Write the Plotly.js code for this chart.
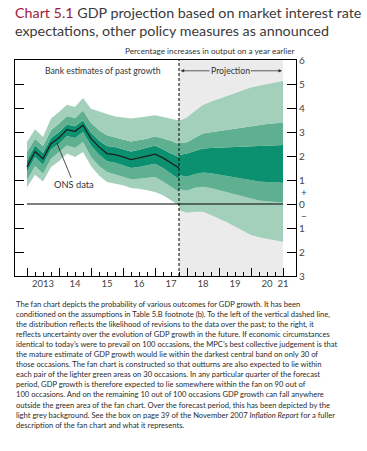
<!DOCTYPE html>
<html>
<head>
<meta charset="utf-8">
<script src="https://cdn.plot.ly/plotly-3.0.1.min.js"></script>
<style>
html,body{margin:0;padding:0;background:#fff;}
#chart{width:367px;height:451px;}
</style>
</head>
<body>
<div id="chart"></div>
<script>
// ---------------- DATA ----------------
const histQuarters = ['2013Q1','2013Q2','2013Q3','2013Q4','2014Q1','2014Q2','2014Q3','2014Q4',
  '2015Q1','2015Q2','2015Q3','2015Q4','2016Q1','2016Q2','2016Q3','2016Q4',
  '2017Q1','2017Q2','2017Q3','2017Q4'];
const onsData     = [1.54,2.19,1.89,2.51,2.76,3.10,3.03,3.28,2.72,2.38,2.10,2.06,1.96,1.85,1.92,2.00,2.08,1.92,1.72,1.50];
const histOuterHi = [2.58,3.11,2.79,3.56,3.83,4.14,4.04,4.42,3.97,3.85,3.75,3.65,3.60,3.56,3.60,3.66,3.70,3.62,3.55,3.48];
const histMidHi   = [2.17,2.72,2.42,3.07,3.35,3.67,3.58,3.90,3.39,3.07,2.86,2.79,2.69,2.60,2.65,2.72,2.82,2.72,2.64,2.50];
const histDarkHi  = [1.82,2.44,2.14,2.75,3.00,3.31,3.24,3.49,2.97,2.65,2.42,2.38,2.28,2.19,2.26,2.35,2.44,2.28,2.10,1.96];
const histDarkLo  = [1.33,1.96,1.64,2.28,2.51,2.83,2.75,3.00,2.44,2.06,1.78,1.72,1.61,1.50,1.54,1.61,1.68,1.50,1.26,1.03];
const histMidLo   = [0.99,1.58,1.26,1.89,2.17,2.44,2.33,2.58,1.96,1.58,1.33,1.22,1.13,1.03,1.05,1.08,1.13,0.94,0.71,0.50];
const histOuterLo = [0.70,1.22,0.94,1.54,1.78,2.10,1.96,2.17,1.58,1.19,0.92,0.85,0.78,0.67,0.64,0.57,0.50,0.36,0.15,-0.05];

const projQuarters = ['2017Q4','2018Q1','2018Q2','2018Q3','2018Q4','2019Q1','2019Q2','2019Q3',
  '2019Q4','2020Q1','2020Q2','2020Q3','2020Q4','2021Q1'];
const projOuterHi = [3.46,3.60,3.88,4.13,4.26,4.38,4.49,4.61,4.72,4.85,4.93,5.00,5.07,5.13];
const projMidHi   = [2.53,2.57,2.76,2.94,2.99,3.04,3.08,3.14,3.19,3.25,3.29,3.33,3.36,3.39];
const projDarkHi  = [2.04,2.10,2.21,2.31,2.33,2.35,2.36,2.38,2.39,2.40,2.42,2.43,2.45,2.46];
const projDarkLo  = [1.21,1.14,1.25,1.31,1.28,1.22,1.17,1.11,1.04,0.97,0.94,0.92,0.90,0.89];
const projMidLo   = [0.61,0.56,0.68,0.72,0.67,0.58,0.49,0.39,0.31,0.21,0.15,0.11,0.08,0.06];
const projOuterLo = [-0.25,-0.36,-0.32,-0.32,-0.46,-0.60,-0.76,-0.94,-1.13,-1.29,-1.39,-1.46,-1.51,-1.57];

const yTickVals   = [-3,-2,-1,0,1,2,3,4,5,6];
const yTickText   = ['3','2','1','0','1','2','3','4','5','6'];
const xYearLabels = ['2013','14','15','16','17','18','19','20','21'];
const xYears      = [2013,2014,2015,2016,2017,2018,2019,2020,2021];

const titleLines = [
 '<span style="color:#a0193c">Chart 5.1</span> GDP projection based on market interest rate',
 'expectations, other policy measures as announced'
];
const footLines = [
 "The fan chart depicts the probability of various outcomes for GDP growth. It has been",
 "conditioned on the assumptions in Table 5.B footnote (b). To the left of the vertical dashed line,",
 "the distribution reflects the likelihood of revisions to the data over the past; to the right, it",
 "reflects uncertainty over the evolution of GDP growth in the future. If economic circumstances",
 "identical to today\u2019s were to prevail on 100 occasions, the MPC\u2019s best collective judgement is that",
 "the mature estimate of GDP growth would lie within the darkest central band on only 30 of",
 "those occasions. The fan chart is constructed so that outturns are also expected to lie within",
 "each pair of the lighter green areas on 30 occasions. In any particular quarter of the forecast",
 "period, GDP growth is therefore expected to lie somewhere within the fan on 90 out of",
 "100 occasions. And on the remaining 10 out of 100 occasions GDP growth can fall anywhere",
 "outside the green area of the fan chart. Over the forecast period, this has been depicted by the",
 "light grey background. See the box on page 39 of the November 2007 <i>Inflation Report</i> for a fuller",
 "description of the fan chart and what it represents."
];

// ---------------- HELPERS ----------------
function q2num(q){ return parseInt(q.slice(0,4),10) + (parseInt(q.slice(5),10)-1)*0.25; }
const hx = histQuarters.map(q2num);
const px = projQuarters.map(q2num);
const projStart = q2num(projQuarters[0]);
const projEnd = q2num(projQuarters[projQuarters.length-1]);

const FONT = "Lato,'Open Sans',sans-serif";
const DARK = '#0b9170', MID = '#5fb091', LIGHT = '#a3d0bb';

function band(x, ys, name){
  const cols = [null, LIGHT, MID, DARK, MID, LIGHT];
  return ys.map((y,i)=>({
    x:x, y:y, type:'scatter', mode:'lines', line:{width:0}, hoverinfo:'skip',
    fill: i===0 ? 'none' : 'tonexty', fillcolor: cols[i] || 'rgba(0,0,0,0)',
    showlegend:false, name:name+i
  }));
}

const traces = []
  .concat(band(hx,[histOuterLo,histMidLo,histDarkLo,histDarkHi,histMidHi,histOuterHi],'h'))
  .concat(band(px,[projOuterLo,projMidLo,projDarkLo,projDarkHi,projMidHi,projOuterHi],'p'));
traces.push({x:hx, y:onsData, type:'scatter', mode:'lines', line:{color:'#1b1f1e', width:1.3}, hoverinfo:'skip', showlegend:false});
// carrier for the year-label axis
traces.push({x:[xYears[0]], y:[null], xaxis:'x2', type:'scatter', mode:'lines', hoverinfo:'skip', showlegend:false});

// ---------------- LAYOUT ----------------
const W=367, H=451, L=15, R=71, T=60, B=175;
const plotW = W-L-R, plotH = H-T-B;
const xMin = 2012.625, xMax = xMin + plotW/32;
function pyToPaper(py){ return (H-B-py)/plotH; }
function pxToPaper(p){ return (p-L)/plotW; }

const quarterTicks = [];
for(let y=xYears[0]; y<xYears[xYears.length-1]; y++){ for(let k=1;k<4;k++) quarterTicks.push(y+k*0.25); }
const labelPos = xYears.map((y,i)=> i<xYears.length-1 ? y+0.5 : y);

const annotations = [];
titleLines.forEach((t,k)=>{
  annotations.push({xref:'paper', yref:'paper', x:pxToPaper(13), y:pyToPaper(12.5+k*17.5), xanchor:'left', yanchor:'middle',
    text:t, showarrow:false, align:'left', font:{family:FONT,size:14.3,color:'#3a3a3a'}});
});
annotations.push({xref:'paper', yref:'paper', x:1, y:pyToPaper(51), xanchor:'right', yanchor:'middle',
  text:'Percentage increases in output on a year earlier', showarrow:false, font:{family:FONT,size:8.2,color:'#333'}});
annotations.push({xref:'x', yref:'y', x:2015.37, y:5.55, text:'Bank estimates of past growth', showarrow:false,
  font:{family:FONT,size:8.7,color:'#333'}});
annotations.push({xref:'x', yref:'y', x:2019.35, y:5.55, text:'Projection', showarrow:false,
  font:{family:FONT,size:8.7,color:'#333'}, bgcolor:'#ebebeb', borderpad:0});
annotations.push({xref:'x', yref:'y', x:projStart+0.05, y:5.55, axref:'x', ayref:'y', ax:2018.8, ay:5.55,
  text:' ', showarrow:true, arrowhead:2, arrowsize:0.9, arrowwidth:0.8, arrowcolor:'#333', standoff:0, startstandoff:0});
annotations.push({xref:'x', yref:'y', x:projEnd-0.03, y:5.55, axref:'x', ayref:'y', ax:2019.9, ay:5.55,
  text:' ', showarrow:true, arrowhead:2, arrowsize:0.9, arrowwidth:0.8, arrowcolor:'#333', standoff:0, startstandoff:0});
annotations.push({xref:'x', yref:'y', x:2013.93, y:2.55, axref:'x', ayref:'y', ax:2014.47, ay:0.80,
  text:'ONS data', showarrow:true, arrowhead:0, arrowwidth:0.8, arrowcolor:'#222', standoff:0,
  font:{family:FONT,size:9.3,color:'#333'}});
annotations.push({xref:'paper', yref:'y', x:1, xshift:3, y:0.5, xanchor:'left', text:'+', showarrow:false, font:{family:FONT,size:10,color:'#444'}});
annotations.push({xref:'paper', yref:'y', x:1, xshift:3, y:-0.5, xanchor:'left', text:'\u2212', showarrow:false, font:{family:FONT,size:10,color:'#444'}});
footLines.forEach((t,k)=>{
  annotations.push({xref:'paper', yref:'paper', x:pxToPaper(14), y:pyToPaper(304+k*10.05), xanchor:'left', yanchor:'middle',
    text:t, showarrow:false, align:'left', font:{family:FONT,size:7.6,color:'#2b2b2b'}});
});

const shapes = [
  {type:'rect', xref:'x', yref:'paper', x0:projStart, x1:projEnd, y0:0, y1:1, fillcolor:'#ebebeb', line:{width:0}, layer:'below'},
  {type:'line', xref:'x', yref:'y', x0:hx[0], x1:projEnd, y0:0, y1:0, line:{color:'#000', width:1}, layer:'above'},
  {type:'line', xref:'x', yref:'paper', x0:projStart, x1:projStart, y0:0, y1:1, line:{color:'#000', width:1, dash:'3px,2px'}, layer:'above'}
];

const layout = {
  width:W, height:H, margin:{l:L, r:R, t:T, b:B, pad:0},
  paper_bgcolor:'#fff', plot_bgcolor:'rgba(0,0,0,0)',
  showlegend:false,
  xaxis:{range:[xMin,xMax], tickmode:'array', tickvals:xYears, ticks:'inside', ticklen:8, tickcolor:'#000', tickwidth:1,
    showticklabels:false, showline:true, linecolor:'#000', linewidth:1, mirror:true, showgrid:false, zeroline:false,
    minor:{tickmode:'array', tickvals:quarterTicks, ticks:'inside', ticklen:4.5, tickcolor:'#000', tickwidth:1, showgrid:false}},
  xaxis2:{range:[xMin,xMax], overlaying:'x', anchor:'y', side:'bottom', tickmode:'array', tickvals:labelPos, ticktext:xYearLabels,
    ticks:'', showline:false, showgrid:false, zeroline:false, tickfont:{family:FONT,size:9.5,color:'#444'}},
  yaxis:{range:[-3,6], side:'right', tickmode:'array', tickvals:yTickVals, ticktext:yTickText, ticks:'inside', ticklen:9,
    tickcolor:'#000', tickwidth:1, showline:true, linecolor:'#000', linewidth:1, mirror:'ticks', showgrid:false, zeroline:false,
    tickfont:{family:FONT,size:10,color:'#444'}},
  annotations:annotations,
  shapes:shapes
};

Plotly.newPlot('chart', traces, layout, {displayModeBar:false, staticPlot:true});
</script>
</body>
</html>
